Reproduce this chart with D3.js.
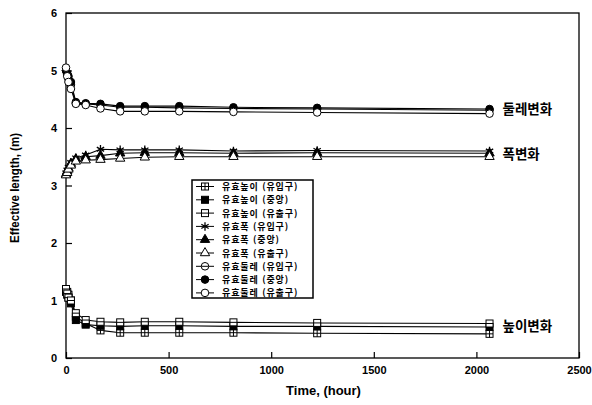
<!DOCTYPE html>
<html lang="ko">
<head>
<meta charset="UTF-8">
<title>Effective length</title>
<script src="https://cdn.jsdelivr.net/npm/d3@7"></script>
<style>
  body { margin: 0; background: #fff; }
  .tick text { font-family: "Liberation Sans", Arial, sans-serif; font-weight: bold; font-size: 11px; }
  .ttl { font-family: "Liberation Sans", Arial, sans-serif; font-weight: bold; }
  .kr { font-family: "Noto Sans CJK KR", sans-serif; font-weight: bold; }
</style>
</head>
<body>
<svg id="chart" width="592" height="405"></svg>
<script>
// time points (hour)
const times = [0, 6, 12, 24, 48, 96, 168, 264, 384, 552, 816, 1224, 2064];

// effective height
const heightIn  = [1.20, 1.15, 1.10, 1.00, 0.72, 0.60, 0.48, 0.44, 0.44, 0.44, 0.44, 0.43, 0.42];
const heightMid = [1.15, 1.10, 1.05, 0.95, 0.66, 0.58, 0.56, 0.55, 0.56, 0.56, 0.55, 0.55, 0.54];
const heightOut = [1.20, 1.12, 1.05, 1.00, 0.78, 0.66, 0.63, 0.62, 0.63, 0.63, 0.62, 0.61, 0.60];
// effective width
const widthIn   = [3.22, 3.27, 3.32, 3.40, 3.48, 3.53, 3.63, 3.62, 3.62, 3.62, 3.60, 3.61, 3.60];
const widthMid  = [3.20, 3.25, 3.30, 3.38, 3.46, 3.50, 3.52, 3.56, 3.57, 3.57, 3.56, 3.57, 3.56];
const widthOut  = [3.18, 3.22, 3.28, 3.35, 3.42, 3.44, 3.45, 3.47, 3.49, 3.50, 3.50, 3.50, 3.50];
// effective perimeter
const periIn    = [5.00, 4.93, 4.85, 4.75, 4.43, 4.42, 4.40, 4.36, 4.36, 4.35, 4.34, 4.33, 4.31];
const periMid   = [5.00, 4.95, 4.90, 4.80, 4.45, 4.43, 4.42, 4.38, 4.38, 4.38, 4.36, 4.35, 4.33];
const periOut   = [5.05, 4.90, 4.80, 4.68, 4.42, 4.40, 4.34, 4.29, 4.29, 4.29, 4.28, 4.27, 4.25];

const seriesNames = [
  "유효높이 (유입구)", "유효높이 (중앙)", "유효높이 (유출구)",
  "유효폭 (유입구)", "유효폭 (중앙)", "유효폭 (유출구)",
  "유효둘레 (유입구)", "유효둘레 (중앙)", "유효둘레 (유출구)"
];
const seriesValues = [heightIn, heightMid, heightOut, widthIn, widthMid, widthOut, periIn, periMid, periOut];

const groupLabels = ["둘레변화", "폭변화", "높이변화"];
const groupLabelValues = [4.33, 3.55, 0.55];

const xTicks = [0, 500, 1000, 1500, 2000, 2500];
const yTicks = [0, 1, 2, 3, 4, 5, 6];

// marker style for each series, in order
const markerTypes = ["squarePlus", "squareFill", "squareLine", "asterisk", "triFill", "triOpen", "circleLine", "circleFill", "circleOpen"];

const svg = d3.select("#chart");
const W = 592, H = 405;
const m = {left: 66, right: 13, top: 13, bottom: 47};

const x = d3.scaleLinear().domain([0, 2500]).range([m.left, W - m.right]);
const y = d3.scaleLinear().domain([0, 6]).range([H - m.bottom, m.top]);

// draw a marker shape at (0,0)
function drawMarker(g, type) {
  const s = 3.5;
  if (type.startsWith("square")) {
    g.append("rect").attr("x", -s).attr("y", -s).attr("width", 2 * s).attr("height", 2 * s)
      .attr("fill", type === "squareFill" ? "#000" : "#fff").attr("stroke", "#000").attr("stroke-width", 1);
    if (type !== "squareFill") g.append("line").attr("x1", -s).attr("x2", s).attr("y1", 0).attr("y2", 0).attr("stroke", "#000");
    if (type === "squarePlus") g.append("line").attr("x1", 0).attr("x2", 0).attr("y1", -s).attr("y2", s).attr("stroke", "#000");
  } else if (type.startsWith("circle")) {
    g.append("circle").attr("r", s + 0.3)
      .attr("fill", type === "circleFill" ? "#000" : "#fff").attr("stroke", "#000").attr("stroke-width", 1);
    if (type === "circleLine") g.append("line").attr("x1", -s).attr("x2", s).attr("y1", 0).attr("y2", 0).attr("stroke", "#000");
  } else if (type.startsWith("tri")) {
    g.append("path").attr("d", d3.symbol(d3.symbolTriangle, 38)())
      .attr("fill", type === "triFill" ? "#000" : "#fff").attr("stroke", "#000").attr("stroke-width", 1);
  } else if (type === "asterisk") {
    g.append("path").attr("d", d3.symbol(d3.symbolAsterisk, 50)())
      .attr("fill", "none").attr("stroke", "#000").attr("stroke-width", 1.3);
  }
}

// frame
svg.append("rect").attr("x", m.left).attr("y", m.top)
  .attr("width", W - m.left - m.right).attr("height", H - m.top - m.bottom)
  .attr("fill", "none").attr("stroke", "#000").attr("stroke-width", 1.3);

// axes with inward ticks
const xAxis = svg.append("g").attr("transform", "translate(0," + (H - m.bottom) + ")")
  .call(d3.axisBottom(x).tickValues(xTicks).tickFormat(d3.format("d"))
    .tickSizeInner(-6).tickSizeOuter(0).tickPadding(8));
const yAxis = svg.append("g").attr("transform", "translate(" + m.left + ",0)")
  .call(d3.axisLeft(y).tickValues(yTicks).tickFormat(d3.format("d"))
    .tickSizeInner(-6).tickSizeOuter(0).tickPadding(9));
[xAxis, yAxis].forEach(a => {
  a.select(".domain").remove();
  a.selectAll(".tick line").attr("stroke", "#000").attr("stroke-width", 1.2);
  a.selectAll(".tick text").attr("fill", "#000");
});

// axis titles
svg.append("text").attr("class", "ttl").attr("font-size", 13)
  .attr("x", (m.left + W - m.right) / 2 + 1).attr("y", 395)
  .attr("text-anchor", "middle").text("Time, (hour)");
svg.append("text").attr("class", "ttl").attr("font-size", 12)
  .attr("transform", "translate(19,188) rotate(-90)")
  .attr("text-anchor", "middle").attr("textLength", 110).attr("lengthAdjust", "spacingAndGlyphs")
  .text("Effective length, (m)");

// lines and markers
const line = d3.line().x((d, i) => x(times[i])).y(d => y(d));
seriesValues.forEach(vals => {
  svg.append("path").attr("d", line(vals)).attr("fill", "none").attr("stroke", "#000").attr("stroke-width", 1.1);
});
seriesValues.forEach((vals, k) => {
  vals.forEach((v, i) => {
    const g = svg.append("g").attr("transform", "translate(" + x(times[i]) + "," + y(v) + ")");
    drawMarker(g, markerTypes[k]);
  });
});

// group labels on the right
groupLabels.forEach((t, i) => {
  svg.append("text").attr("class", "kr").attr("x", x(2064) + 13).attr("y", y(groupLabelValues[i]) + 5)
    .attr("font-size", 13.5).text(t);
});

// legend
const lg = svg.append("g").attr("transform", "translate(192,180)");
lg.append("rect").attr("width", 121).attr("height", 118)
  .attr("fill", "#fff").attr("stroke", "#000").attr("stroke-width", 1.5);
seriesNames.forEach((name, i) => {
  const ry = 6.5 + i * 13.3;
  lg.append("line").attr("x1", 4).attr("x2", 22).attr("y1", ry).attr("y2", ry).attr("stroke", "#000");
  const g = lg.append("g").attr("transform", "translate(13," + ry + ")");
  drawMarker(g, markerTypes[i]);
  lg.append("text").attr("class", "kr").attr("x", 30).attr("y", ry)
    .attr("dominant-baseline", "central").attr("font-size", 9)
    .attr("letter-spacing", 0.9).text(name);
});
</script>
</body>
</html>
